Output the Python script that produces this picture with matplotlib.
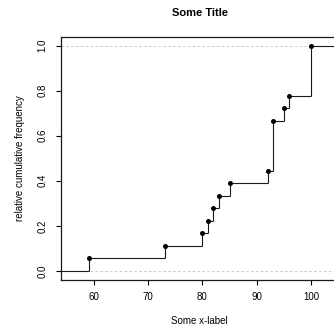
import numpy as np
import matplotlib
matplotlib.use("Agg")
import matplotlib.pyplot as plt

# data: distinct observed values and their counts
x_values = [59, 73, 80, 81, 82, 83, 85, 92, 93, 95, 96, 100]
counts = [1, 1, 1, 1, 1, 1, 1, 1, 4, 1, 1, 4]
x_ticks = [60, 70, 80, 90, 100]
y_ticks = [0.0, 0.2, 0.4, 0.6, 0.8, 1.0]
title = "Some Title"
xlabel = "Some x-label"
ylabel = "relative cumulative frequency"

plt.rcParams['font.family'] = ['Liberation Sans', 'DejaVu Sans']

W, H = 334, 331
fig = plt.figure(figsize=(W / 100, H / 100), dpi=100)

x = np.array(x_values, dtype=float)
F = np.cumsum(counts) / np.sum(counts)

# R-style plot.stepfun limits
dr = max(0.08 * (x.max() - x.min()), np.median(np.diff(x)))
xlo, xhi = x.min() - dr, x.max() + dr
ext = 0.04 * (xhi - xlo)
xlim = (xlo - ext, xhi + ext)
ylim = (-0.04, 1.04)

# axes placement in pixels
left_px, right_px = 60.5, 339.0
top_px, bot_px = 36.5, 280.0
ax = fig.add_axes([left_px / W, (H - bot_px) / H,
                   (right_px - left_px) / W, (bot_px - top_px) / H])
ax.set_xlim(*xlim)
ax.set_ylim(*ylim)

# dashed reference lines
for yy in (0.0, 1.0):
    ax.axhline(yy, color='#c8c8c8', lw=0.7, ls=(0, (2.5, 2.5)), zorder=1)

lc = '#1a1a1a'
lw = 0.8
# horizontal segments
starts = np.concatenate([[xlim[0]], x])
ends = np.concatenate([x, [xlim[1]]])
levels = np.concatenate([[0.0], F])
ax.hlines(levels, starts, ends, colors=lc, lw=lw, zorder=2)
# vertical segments
prev = np.concatenate([[0.0], F[:-1]])
ax.vlines(x, prev, F, colors=lc, lw=lw, zorder=2)
# points
ax.plot(x, F, 'o', color='black', ms=3.6, mew=0, zorder=3)

for s in ax.spines.values():
    s.set_linewidth(0.9)
    s.set_color('#1a1a1a')

ax.set_xticks(x_ticks)
ax.set_yticks(y_ticks)
ax.set_xticklabels([str(t) for t in x_ticks])
ax.set_yticklabels(["%.1f" % t for t in y_ticks], rotation=90, va='center')
ax.tick_params(axis='both', direction='out', length=3.6, width=0.8,
               labelsize=7, colors='black')
ax.tick_params(axis='x', pad=5)
ax.tick_params(axis='y', pad=6)

cx = (left_px + right_px) / 2 / W
fig.text(cx, 1 - 13 / H, title, ha='center', va='center',
         fontsize=8, fontweight='bold')
fig.text(cx, 1 - 321 / H, xlabel, ha='center', va='center', fontsize=7)
fig.text(20 / W, 1 - ((top_px + bot_px) / 2) / H, ylabel, ha='center',
         va='center', rotation=90, fontsize=7)

fig.savefig("out.png", dpi=100)
